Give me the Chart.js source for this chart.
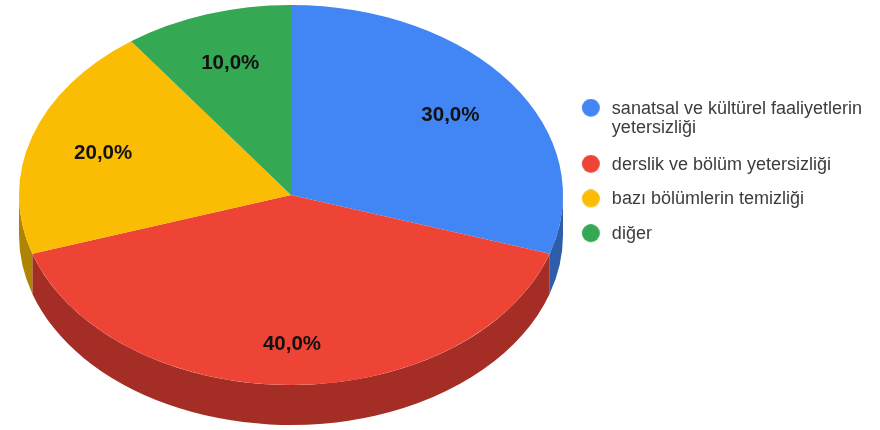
<!DOCTYPE html>
<html>
<head>
<meta charset="utf-8">
<style>
  html, body { margin: 0; padding: 0; background: #fff; }
  #wrap { width: 880px; height: 430px; }
</style>
<script src="https://cdn.jsdelivr.net/npm/chart.js@4"></script>
</head>
<body>
<div id="wrap"><canvas id="chart" width="880" height="430"></canvas></div>
<script>
const categories = [
    ['sanatsal ve kültürel faaliyetlerin', 'yetersizliği'],
    'derslik ve bölüm yetersizliği',
    'bazı bölümlerin temizliği',
    'diğer'
];
const values = [30, 40, 20, 10];
const topColors = ['#4285f4', '#ee4435', '#fbbc04', '#34a853'];
const sideColors = ['#2e5da9', '#a42e25', '#b08403', '#247538'];
const labelRadius = [0.72, 0.78, 0.73, 0.735];

// la torta se aplana con una transformación del canvas
const PIE_X = 291, PIE_Y = 195, PIE_RX = 272, TILT = 190 / 272, DEPTH = 40;

function applyTilt(ctx, arc) {
    ctx.translate(PIE_X, PIE_Y);
    ctx.scale(1, TILT);
    ctx.translate(-arc.x, -arc.y);
}

// punto de la leyenda: corrido a la izquierda para separarlo del texto
function legendDot(color) {
    const c = document.createElement('canvas');
    c.width = 26;
    c.height = 20;
    const g = c.getContext('2d');
    g.fillStyle = color;
    g.beginPath();
    g.arc(10, 9, 9, 0, Math.PI * 2);
    g.fill();
    return c;
}

const tiltedPie = {
    id: 'tiltedPie',
    beforeDatasetDraw(chart) {
        const ctx = chart.ctx;
        const arcs = chart.getDatasetMeta(0).data;
        ctx.save();
        applyTilt(ctx, arcs[0]);
        // cara lateral: solo la mitad inferior es visible
        const d = DEPTH / TILT;
        arcs.forEach((arc, i) => {
            const from = Math.max(arc.startAngle, 0);
            const to = Math.min(arc.endAngle, Math.PI);
            if (to <= from) return;
            ctx.beginPath();
            ctx.arc(arc.x, arc.y, arc.outerRadius, from, to);
            ctx.arc(arc.x, arc.y + d, arc.outerRadius, to, from, true);
            ctx.closePath();
            ctx.fillStyle = sideColors[i];
            ctx.fill();
        });
    },
    afterDatasetDraw(chart) {
        const ctx = chart.ctx;
        ctx.restore();

        // porcentajes sobre cada porción
        const arcs = chart.getDatasetMeta(0).data;
        const total = values.reduce((a, b) => a + b, 0);
        ctx.save();
        ctx.font = 'bold 20.5px "Liberation Sans", Arial, sans-serif';
        ctx.fillStyle = '#111';
        ctx.textAlign = 'center';
        ctx.textBaseline = 'middle';
        arcs.forEach((arc, i) => {
            const mid = (arc.startAngle + arc.endAngle) / 2;
            const r = arc.outerRadius * labelRadius[i];
            const x = PIE_X + Math.cos(mid) * r + 1;
            const y = PIE_Y + Math.sin(mid) * r * TILT + 1;
            const pct = (values[i] / total * 100).toFixed(1).replace('.', ',') + '%';
            ctx.fillText(pct, x, y);
        });
        ctx.restore();
    }
};

new Chart(document.getElementById('chart'), {
    type: 'pie',
    data: {
        labels: categories,
        datasets: [{
            data: values,
            backgroundColor: topColors,
            borderWidth: 0,
            radius: PIE_RX,
            clip: false
        }]
    },
    options: {
        responsive: false,
        animation: false,
        layout: { padding: { top: 83, right: 8 } },
        plugins: {
            tooltip: { enabled: false },
            legend: {
                position: 'right',
                align: 'start',
                labels: {
                    usePointStyle: true,
                    boxHeight: 18,
                    boxWidth: 18,
                    padding: 16.7,
                    color: '#3c3c3c',
                    font: { family: '"Liberation Sans", Arial, sans-serif', size: 18, lineHeight: 1.094 },
                    generateLabels(chart) {
                        const items = Chart.overrides.pie.plugins.legend.labels.generateLabels(chart);
                        items.forEach((item, i) => { item.pointStyle = legendDot(topColors[i]); });
                        return items;
                    }
                }
            }
        }
    },
    plugins: [tiltedPie]
});
</script>
</body>
</html>
